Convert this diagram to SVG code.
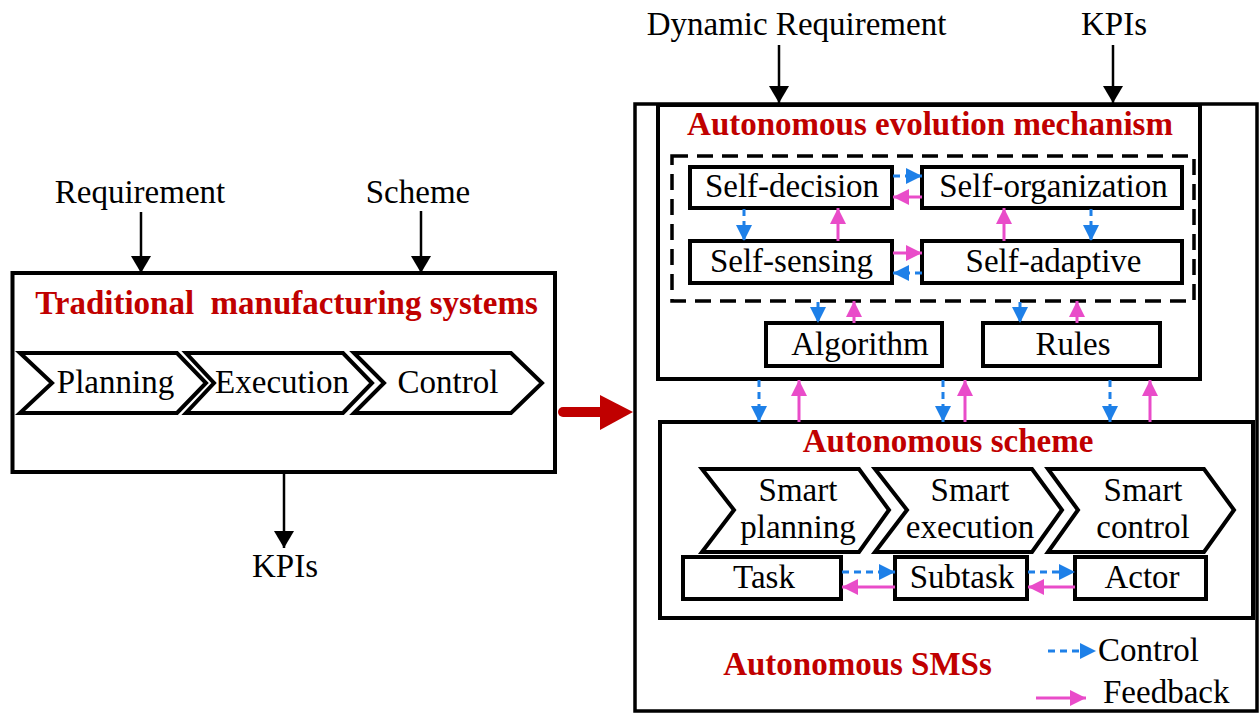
<svg xmlns="http://www.w3.org/2000/svg" width="1259" height="713" viewBox="0 0 1259 713">
<style>
text{font-family:"Liberation Serif","Times New Roman",serif;font-size:33px;fill:#000}
.c{text-anchor:middle}
.t{font-weight:bold;fill:#C00000}
.box{fill:none;stroke:#000;stroke-width:4}
.chev{fill:#fff;stroke:#000;stroke-width:4;stroke-linejoin:miter}
.blk{stroke:#000;stroke-width:2.5;fill:none}
.blue{stroke:#1E80E8;stroke-width:3;stroke-dasharray:7 5;fill:none}
.pink{stroke:#E94CC9;stroke-width:3;fill:none}
</style>
<defs>
<marker id="mb" markerUnits="userSpaceOnUse" markerWidth="18" markerHeight="20" refX="17" refY="10" orient="auto"><path d="M0,0 L17,10 L0,20 Z" fill="#000"/></marker>
<marker id="mbl" markerUnits="userSpaceOnUse" markerWidth="17" markerHeight="17" refX="16" refY="8" orient="auto"><path d="M0,0 L16,8 L0,16 Z" fill="#1E80E8"/></marker>
<marker id="mpk" markerUnits="userSpaceOnUse" markerWidth="17" markerHeight="17" refX="16" refY="8" orient="auto"><path d="M0,0 L16,8 L0,16 Z" fill="#E94CC9"/></marker>
</defs>
<rect width="1259" height="713" fill="#fff"/>

<!-- Left: traditional -->
<g id="label-requirement"><text class="c" x="140" y="203">Requirement</text></g>
<g id="label-scheme"><text class="c" x="418" y="203">Scheme</text></g>
<g id="traditional">
<rect class="box" x="12.5" y="273" width="542.5" height="199"/>
<text class="c t" x="286.5" y="314">Traditional&#160; manufacturing systems</text>
</g>
<g id="planning"><path class="chev" d="M20,353 L177,353 L206,383 L177,413 L20,413 L52,383 Z"/><text class="c" x="115.5" y="393">Planning</text></g>
<g id="execution"><path class="chev" d="M186,353 L343,353 L372,383 L343,413 L186,413 L214,383 Z"/><text class="c" x="282" y="393">Execution</text></g>
<g id="control"><path class="chev" d="M354,353 L511,353 L542,383 L511,413 L354,413 L384,383 Z"/><text class="c" x="448" y="393">Control</text></g>
<g id="label-kpis-left"><text class="c" x="285" y="577">KPIs</text></g>

<!-- Right: autonomous -->
<g id="label-dynamic"><text class="c" x="796.5" y="35">Dynamic Requirement</text></g>
<g id="label-kpis-right"><text class="c" x="1114" y="35">KPIs</text></g>
<g id="autonomous-smss">
<rect x="635" y="104" width="622" height="607" fill="none" stroke="#000" stroke-width="3.5"/>
<text class="c t" x="857.5" y="675">Autonomous SMSs</text>
</g>
<g id="evolution">
<rect class="box" x="658" y="105" width="542" height="274"/>
<text class="c t" x="930" y="135">Autonomous evolution mechanism</text>
<rect x="672" y="156" width="522" height="145" fill="none" stroke="#000" stroke-width="3.5" stroke-dasharray="16 9"/>
</g>
<g id="self-decision"><rect class="box" x="690" y="167" width="202" height="41"/><text class="c" x="792" y="197">Self-decision</text></g>
<g id="self-organization"><rect class="box" x="922" y="167" width="260" height="41"/><text class="c" x="1053.5" y="197">Self-organization</text></g>
<g id="self-sensing"><rect class="box" x="690" y="241" width="202" height="42"/><text class="c" x="791.5" y="272">Self-sensing</text></g>
<g id="self-adaptive"><rect class="box" x="922" y="241" width="260" height="42"/><text class="c" x="1053.5" y="272">Self-adaptive</text></g>
<g id="algorithm"><rect class="box" x="766" y="323" width="176" height="43"/><text class="c" x="860" y="355">Algorithm</text></g>
<g id="rules"><rect class="box" x="983" y="323" width="177" height="43"/><text class="c" x="1073" y="355">Rules</text></g>

<g id="scheme">
<rect class="box" x="660" y="422" width="593" height="196"/>
<text class="c t" x="948" y="452">Autonomous scheme</text>
</g>
<g id="smart-planning"><path class="chev" d="M702,469 L859,469 L889,510 L859,552 L702,552 L734,510 Z"/><text class="c" x="798" y="501">Smart</text><text class="c" x="798" y="538">planning</text></g>
<g id="smart-execution"><path class="chev" d="M875,469 L1032,469 L1062,510 L1032,552 L875,552 L907,510 Z"/><text class="c" x="970" y="501">Smart</text><text class="c" x="970" y="538">execution</text></g>
<g id="smart-control"><path class="chev" d="M1048,469 L1204,469 L1234,510 L1204,552 L1048,552 L1078,510 Z"/><text class="c" x="1143" y="501">Smart</text><text class="c" x="1143" y="538">control</text></g>
<g id="task"><rect class="box" x="683" y="557" width="158" height="42"/><text class="c" x="764" y="588">Task</text></g>
<g id="subtask"><rect class="box" x="895" y="557" width="132" height="42"/><text class="c" x="962" y="588">Subtask</text></g>
<g id="actor"><rect class="box" x="1075" y="557" width="131" height="42"/><text class="c" x="1142" y="588">Actor</text></g>

<g id="legend">
<path class="blue" d="M1048,651 L1096,651" marker-end="url(#mbl)"/>
<text x="1098" y="661">Control</text>
<path class="pink" d="M1036,698 L1086,698" marker-end="url(#mpk)"/>
<text x="1103" y="703">Feedback</text>
</g>

<g id="connectors">
<path class="blk" d="M141,212 L141,273" marker-end="url(#mb)"/>
<path class="blk" d="M421,211 L421,273" marker-end="url(#mb)"/>
<path class="blk" d="M284,472 L284,548" marker-end="url(#mb)"/>
<path class="blk" d="M779,45 L779,103" marker-end="url(#mb)"/>
<path class="blk" d="M1113,45 L1113,103" marker-end="url(#mb)"/>
<path d="M563,412 L602,412" stroke="#C00000" stroke-width="10" stroke-linecap="round"/>
<path d="M600,395 L633,412 L600,430 Z" fill="#C00000"/>

<path class="blue" d="M893,176 L922,176" marker-end="url(#mbl)"/>
<path class="pink" d="M922,197 L893,197" marker-end="url(#mpk)"/>
<path class="pink" d="M893,253 L922,253" marker-end="url(#mpk)"/>
<path class="blue" d="M922,273 L893,273" marker-end="url(#mbl)"/>
<path class="blue" d="M744,209 L744,241" marker-end="url(#mbl)"/>
<path class="pink" d="M838,241 L838,208" marker-end="url(#mpk)"/>
<path class="pink" d="M1004,241 L1004,208" marker-end="url(#mpk)"/>
<path class="blue" d="M1091,209 L1091,241" marker-end="url(#mbl)"/>
<path class="blue" d="M818,302 L818,323" marker-end="url(#mbl)"/>
<path class="pink" d="M854,323 L854,301" marker-end="url(#mpk)"/>
<path class="blue" d="M1020,302 L1020,323" marker-end="url(#mbl)"/>
<path class="pink" d="M1077,323 L1077,301" marker-end="url(#mpk)"/>

<path class="blue" d="M759,380 L759,422" marker-end="url(#mbl)"/>
<path class="pink" d="M799,422 L799,380" marker-end="url(#mpk)"/>
<path class="blue" d="M943,380 L943,422" marker-end="url(#mbl)"/>
<path class="pink" d="M965,422 L965,380" marker-end="url(#mpk)"/>
<path class="blue" d="M1110,380 L1110,422" marker-end="url(#mbl)"/>
<path class="pink" d="M1150,422 L1150,380" marker-end="url(#mpk)"/>

<path class="blue" d="M842,572 L895,572" marker-end="url(#mbl)"/>
<path class="pink" d="M895,587 L842,587" marker-end="url(#mpk)"/>
<path class="blue" d="M1028,572 L1075,572" marker-end="url(#mbl)"/>
<path class="pink" d="M1075,587 L1028,587" marker-end="url(#mpk)"/>
</g>
</svg>
